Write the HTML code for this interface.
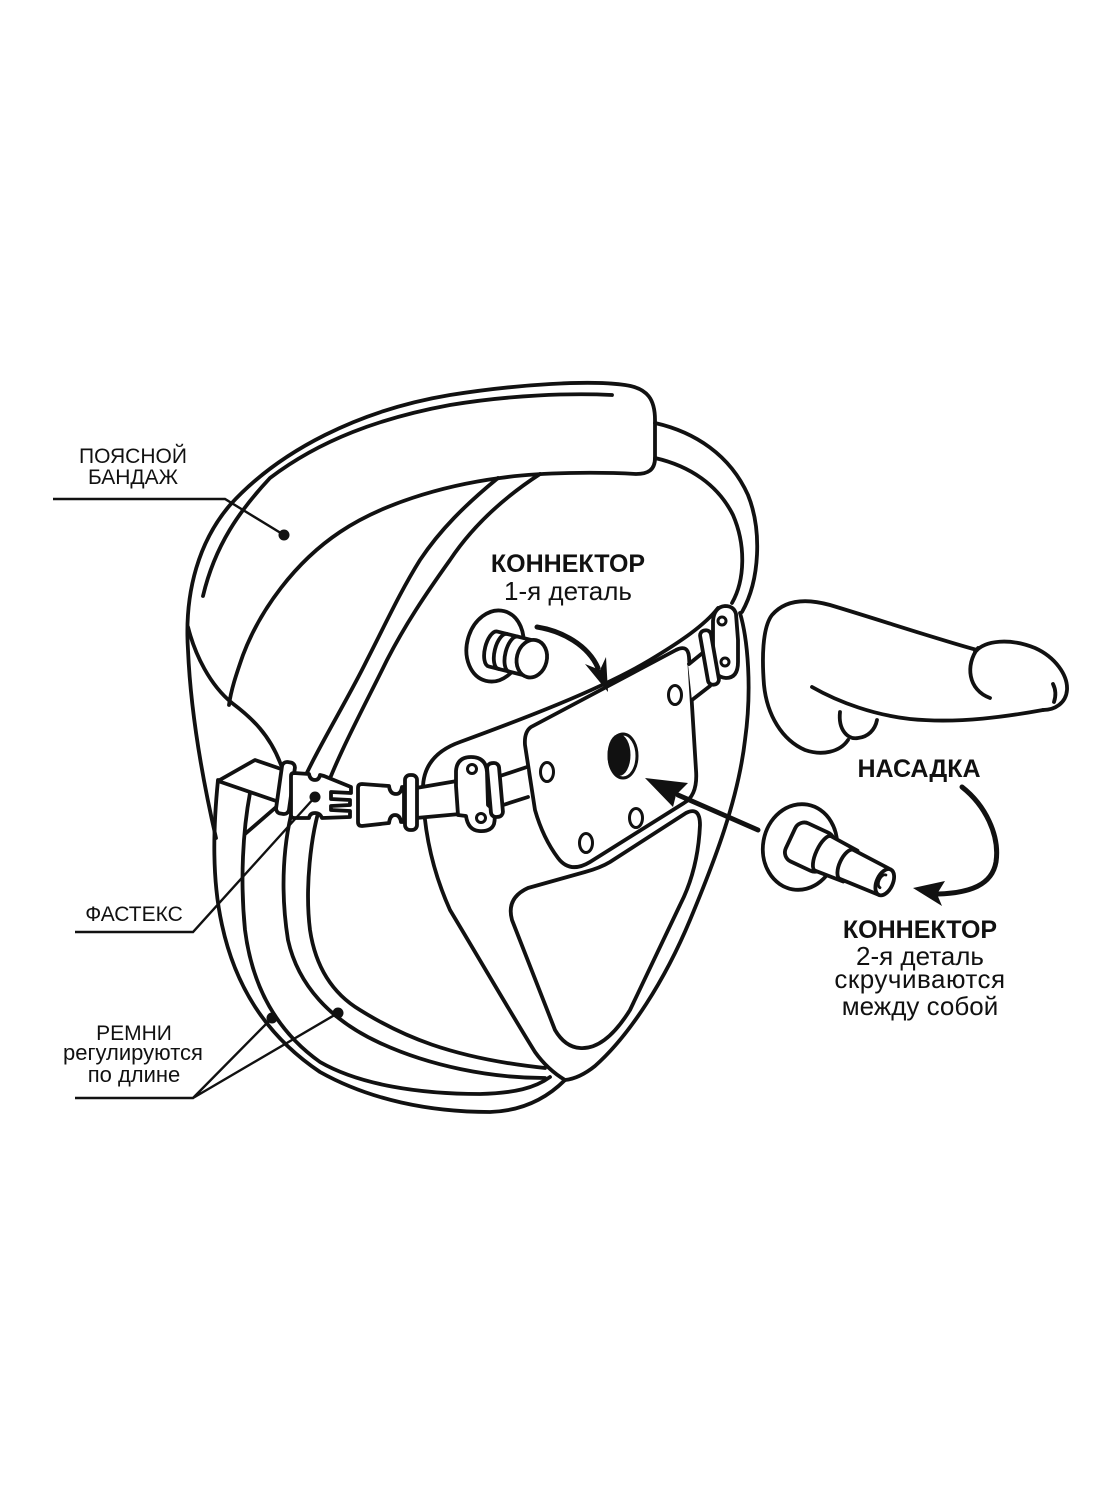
<!DOCTYPE html>
<html><head><meta charset="utf-8"><style>
html,body{margin:0;padding:0;background:#fff;}
svg{display:block;}
text{font-family:"Liberation Sans",Arial,sans-serif;fill:#111;}
</style></head><body>
<svg width="1120" height="1493" viewBox="0 0 1120 1493" xmlns="http://www.w3.org/2000/svg">
<rect width="1120" height="1493" fill="#fff"/>
<g fill="none" stroke="#111" stroke-width="3.8" stroke-linecap="round" stroke-linejoin="round">
  <!-- waist band -->
  <path d="M216,838 C205,790 191,720 188,650 C184,590 200,540 230,505 C280,450 360,410 450,395 C520,384 590,380 625,385 C648,388 655,400 655,420 L655,458 C655,470 648,474 636,474 C600,472 540,472 500,478 C440,486 380,505 340,532 C295,562 260,610 243,655 C236,675 231,690 229,705"/>
  <path d="M203,596 C215,545 240,510 270,478 C320,440 380,418 450,405 C510,395 570,393 612,395"/>
  <path d="M188,627 C195,655 210,685 232,703 C252,718 270,735 281,765"/>
  <!-- bundle lines -->
  <path d="M218,780 C213,830 212,880 222,925 C235,985 265,1035 320,1072 C370,1100 430,1112 490,1112 C520,1111 545,1100 565,1080"/>
  <path d="M250,793 C243,830 240,880 245,930 C252,985 275,1030 320,1062 C360,1085 420,1094 480,1094 C515,1093 535,1088 550,1077"/>
  <path d="M498,478 C465,505 440,530 420,560 C400,592 385,625 367,660 C345,705 310,760 295,800 C283,840 280,890 288,940 C298,985 330,1020 380,1043 C430,1066 490,1078 545,1078"/>
  <path d="M540,474 C500,500 470,530 450,560 C425,595 405,625 387,660 C365,705 335,760 322,800 C310,835 305,890 310,930 C316,970 335,995 360,1010 C400,1035 450,1058 545,1068"/>
  <!-- pouch -->
  <path d="M423,792 C424,830 432,870 450,910 C480,960 512,1015 535,1052 C545,1066 555,1074 565,1080"/>
  <path d="M423,792 C422,770 432,752 460,742 C520,720 600,690 650,660 C680,642 705,625 718,608"/>
  <path d="M740,613 C748,640 752,690 745,740 C738,800 715,860 690,920 C665,980 630,1035 595,1066 C585,1074 575,1079 565,1080"/>
  <!-- side strap -->
  <path d="M655,423 C695,432 730,455 748,495 C762,530 760,580 742,612"/>
  <path d="M655,458 C690,466 718,485 733,515 C746,545 745,580 732,603"/>
  <!-- plate and window -->
  <path fill="#fff" d="M531,727 L676,650 Q688,644 689,657 L696,770 Q698,795 684,803 L590,862 Q570,874 558,858 Q543,838 535,810 L525,745 Q524,732 531,727 Z"/>
  <path fill="#fff" d="M528,888 L585,872 Q600,868 610,862 L686,813 Q700,806 700,825 Q698,870 680,905 L630,1010 Q605,1050 580,1048 Q565,1047 555,1030 L512,920 Q506,898 528,888 Z"/>
  <ellipse cx="547" cy="772" rx="6.5" ry="9.5" stroke-width="3"/>
  <ellipse cx="675" cy="695" rx="6.5" ry="9.5" stroke-width="3"/>
  <ellipse cx="636" cy="818" rx="6.5" ry="9.5" stroke-width="3"/>
  <ellipse cx="586" cy="843" rx="6.5" ry="9.5" stroke-width="3"/>
  <ellipse cx="623" cy="756" rx="14" ry="22" stroke-width="3"/>
  <ellipse cx="619" cy="755" rx="11.5" ry="21" fill="#111" stroke="none"/>
  <!-- left flap -->
  <path d="M218,781 L255,760 L284,770"/>
  <path d="M218,781 L282,803"/>
  <path d="M245,834 L282,802"/>
  <!-- left slider -->
  <rect x="279" y="762" width="13" height="52" rx="5" fill="#fff" transform="rotate(8 285.5 788)"/>
  <!-- female buckle -->
  <path fill="#fff" d="M294,773 L309,774 Q310,780 315,780 Q319,780 320,775 L324,776 L351,787 L351,793 L331,792 L331,799 L350,800 L350,805 L331,806 L331,810 L350,811 L350,817 L322,818 Q320,813 315,813 Q310,813 309,818 L294,818 Q291,818 291,815 L291,776 Q291,773 294,773 Z"/>
  <!-- male buckle -->
  <path fill="#fff" d="M362,784 L389,786 Q390,794 396,794 Q401,794 402,787 L404,787 L404,822 L401,822 Q400,815 395,815 Q390,815 389,823 L362,826 Q358,826 358,822 L358,788 Q358,784 362,784 Z"/>
  <!-- strap male->hinge -->
  <path fill="#fff" stroke="none" d="M416,788 L457,781 L460,814 L416,818 Z"/>
  <path d="M416,788 L457,781 M416,818 L460,814"/>
  <rect x="405" y="775" width="12" height="55" rx="5" fill="#fff"/>
  <!-- left hinge -->
  <path fill="#fff" d="M456,786 L456,771 Q457,757 471,757 Q486,757 487,772 L488,805 Q497,811 494,824 Q491,832 479,831 Q468,830 466,816 L458,815 Z"/>
  <circle cx="472" cy="769" r="4.5" stroke-width="3"/>
  <circle cx="481" cy="818" r="4.5" stroke-width="3"/>
  <path fill="#fff" stroke="none" d="M500,776 L527,767 L528,797 L500,806 Z"/>
  <path d="M500,776 L527,767 M500,806 L528,797"/>
  <rect x="489" y="763" width="12" height="54" rx="5" fill="#fff" transform="rotate(-5 495 790)"/>
  <!-- right hinge assembly -->
  <path fill="#fff" stroke="none" d="M688,664 L706,648 L711,685 L692,701 Z"/>
  <path d="M689,664 L705,651 M692,700 L710,686"/>
  <path fill="#fff" d="M713,642 L713,621 Q714,607 725,606 Q734,606 736,614 L738,640 L738,662 Q738,678 726,678 Q714,677 713,664 Z"/>
  <circle cx="722" cy="621" r="4" stroke-width="3"/>
  <circle cx="725" cy="662" r="4" stroke-width="3"/>
  <rect x="704" y="630" width="11" height="55" rx="5" fill="#fff" transform="rotate(-10 709.5 657.5)"/>
  <!-- connector 1 -->
  <ellipse cx="495" cy="646" rx="28" ry="36" fill="#fff" transform="rotate(15 495 646)"/>
  <g transform="translate(493,649) rotate(14)">
    <path fill="#fff" d="M0,-18 L40,-18 L40,18 L0,18 A8,18 0 0 1 0,-18 Z"/>
    <path d="M10,-18 A8,18 0 0 0 10,18"/>
    <path d="M21,-18 A8,18 0 0 0 21,18"/>
    <ellipse cx="40" cy="0" rx="15" ry="19" fill="#fff"/>
  </g>
  <!-- dildo -->
  <path d="M977,650 C940,640 880,620 830,605 C805,598 785,600 772,615 C762,628 762,660 764,685 C767,715 782,740 805,750 C822,756 840,752 848,740"/>
  <path d="M975,652 C985,640 1010,638 1035,648 C1055,657 1068,675 1067,690 C1066,703 1055,710 1043,710"/>
  <path d="M1043,710 C1010,716 960,724 910,719 C875,715 840,703 812,687"/>
  <path d="M840,712 C838,730 848,740 858,738 C868,737 875,730 877,720"/>
  <path d="M978,648 C965,665 968,690 990,698"/>
  <path d="M1053,684 C1056,690 1056,696 1054,702"/>
  <!-- connector 2 -->
  <ellipse cx="800" cy="847" rx="37" ry="43" fill="#fff" transform="rotate(10 800 847)"/>
  <g transform="translate(805,845) rotate(25)">
    <rect x="-16" y="-21" width="42" height="42" rx="10" fill="#fff"/>
    <path fill="#fff" d="M20,-19 L50,-17 L50,17 L20,19 A7,19 0 0 1 20,-19 Z"/>
    <path fill="#fff" d="M46,-16 L88,-14 L88,14 L46,16 A7,16 0 0 1 46,-16 Z"/>
    <ellipse cx="88" cy="0" rx="8" ry="14" fill="#fff"/>
    <path d="M86,-7 A4,7 0 0 0 86,7" stroke-width="2.8"/>
  </g>
</g>
<!-- arrows -->
<g fill="none" stroke="#111" stroke-width="5" stroke-linecap="round">
  <path d="M537,627 C562,631 588,645 598,668"/>
  <path d="M758,830 L678,795"/>
  <path d="M962,787 C985,805 1000,835 996,862 C992,885 970,893 938,894"/>
</g>
<g fill="#111" stroke="none">
  <polygon points="608,692 585,664 600,670 606,657"/>
  <polygon points="645,778 688,783 676,795 673,807"/>
  <polygon points="913,888 945,881 937,894 942,906"/>
</g>
<!-- leader lines -->
<g fill="none" stroke="#111" stroke-width="2.4" stroke-linejoin="miter">
  <path d="M53,499 L225,499 L284,535"/>
  <path d="M75,932 L193,932 L315,797"/>
  <path d="M75,1098 L193,1098 L272,1018 M193,1098 L338,1013"/>
</g>
<g fill="#111">
  <circle cx="284" cy="535" r="5.5"/>
  <circle cx="315" cy="797" r="5.5"/>
  <circle cx="272" cy="1018" r="5.5"/>
  <circle cx="338" cy="1013" r="5.5"/>
</g>
<!-- labels -->
<g text-anchor="middle">
  <text x="133" y="463" font-size="21">ПОЯСНОЙ</text>
  <text x="133" y="484" font-size="21">БАНДАЖ</text>
  <text x="134" y="921" font-size="21">ФАСТЕКС</text>
  <text x="134" y="1040" font-size="21">РЕМНИ</text>
  <text x="133" y="1060" font-size="22">регулируются</text>
  <text x="134" y="1082" font-size="22">по длине</text>
  <text x="568" y="572" font-size="25" font-weight="bold">КОННЕКТОР</text>
  <text x="568" y="600" font-size="26">1-я деталь</text>
  <text x="919" y="777" font-size="25" font-weight="bold">НАСАДКА</text>
  <text x="920" y="938" font-size="25" font-weight="bold">КОННЕКТОР</text>
  <text x="920" y="965" font-size="26">2-я деталь</text>
  <text x="920" y="988" font-size="26" letter-spacing="0.5">скручиваются</text>
  <text x="920" y="1015" font-size="26">между собой</text>
</g>
</svg>
</body></html>
